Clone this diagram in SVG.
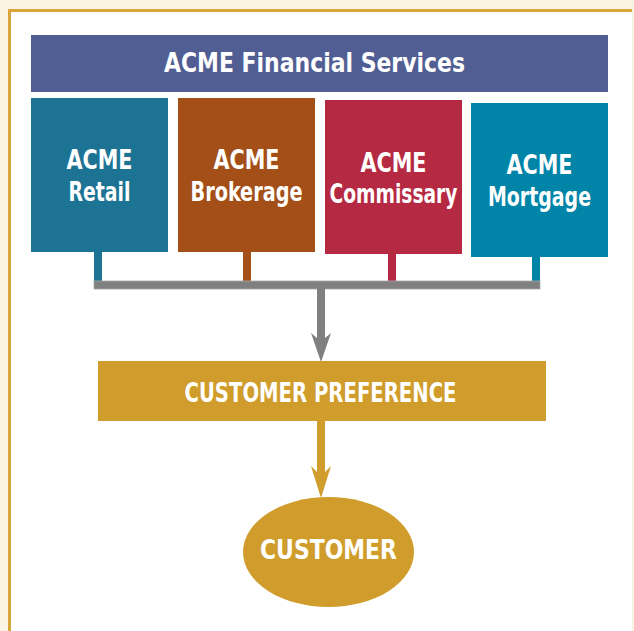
<svg xmlns="http://www.w3.org/2000/svg" width="634" height="631" viewBox="0 0 634 631">
<style>
.t{font-family:"Liberation Sans Narrow","DejaVu Sans Condensed","Liberation Sans",sans-serif;font-weight:bold;fill:#fff;text-anchor:middle;font-size:26px}
</style>
<rect x="0" y="0" width="634" height="631" fill="#FBF3E4"/>
<rect x="9" y="10" width="623" height="625" fill="#fff"/>
<path d="M9.5,631 V10.5 H632" fill="none" stroke="#D9A53A" stroke-width="3"/>
<g id="title">
<rect x="31" y="35" width="577" height="57" fill="#515E93"/>
<text class="t" x="314.5" y="72" font-size="28" textLength="301" lengthAdjust="spacingAndGlyphs">ACME Financial Services</text>
</g>
<g id="connectors">
<rect x="94" y="250" width="8" height="35" fill="#1C7394"/>
<rect x="243" y="250" width="8" height="35" fill="#A44F18"/>
<rect x="388" y="252" width="8" height="33" fill="#B52942"/>
<rect x="532" y="255" width="8" height="30" fill="#0084A8"/>
<rect x="94" y="281" width="446" height="8" fill="#808080" stroke="#A8A8A8" stroke-width="0.8"/>
<polygon points="317,288 317,338 311,333 321,362 331,333 325,338 325,288" fill="#808080"/>
<polygon points="317,420 317,472 311,466 321,498 331,466 325,472 325,420" fill="#D09D2C"/>
</g>
<g id="retail">
<rect x="31" y="98" width="137" height="154" fill="#1C7394"/>
<text class="t" x="99.5" y="169" textLength="66" lengthAdjust="spacingAndGlyphs">ACME</text>
<text class="t" x="99.5" y="200.5" textLength="62" lengthAdjust="spacingAndGlyphs">Retail</text>
</g>
<g id="brokerage">
<rect x="178" y="98" width="137" height="154" fill="#A44F18"/>
<text class="t" x="246.5" y="169" textLength="66" lengthAdjust="spacingAndGlyphs">ACME</text>
<text class="t" x="246.5" y="200.5" textLength="112" lengthAdjust="spacingAndGlyphs">Brokerage</text>
</g>
<g id="commissary">
<rect x="325" y="100" width="137" height="154" fill="#B52942"/>
<text class="t" x="393.5" y="172" textLength="66" lengthAdjust="spacingAndGlyphs">ACME</text>
<text class="t" x="393.5" y="203" textLength="128" lengthAdjust="spacingAndGlyphs">Commissary</text>
</g>
<g id="mortgage">
<rect x="471" y="103" width="137" height="154" fill="#0084A8"/>
<text class="t" x="539.5" y="174" textLength="66" lengthAdjust="spacingAndGlyphs">ACME</text>
<text class="t" x="539.5" y="205.5" textLength="103" lengthAdjust="spacingAndGlyphs">Mortgage</text>
</g>
<g id="preference">
<rect x="98" y="361" width="448" height="60" fill="#D09D2C"/>
<text class="t" x="320.5" y="402" textLength="272" lengthAdjust="spacingAndGlyphs">CUSTOMER PREFERENCE</text>
</g>
<g id="customer">
<ellipse cx="328.5" cy="552" rx="85.5" ry="55" fill="#D09D2C"/>
<text class="t" x="328.5" y="559" textLength="137" lengthAdjust="spacingAndGlyphs">CUSTOMER</text>
</g>
</svg>
